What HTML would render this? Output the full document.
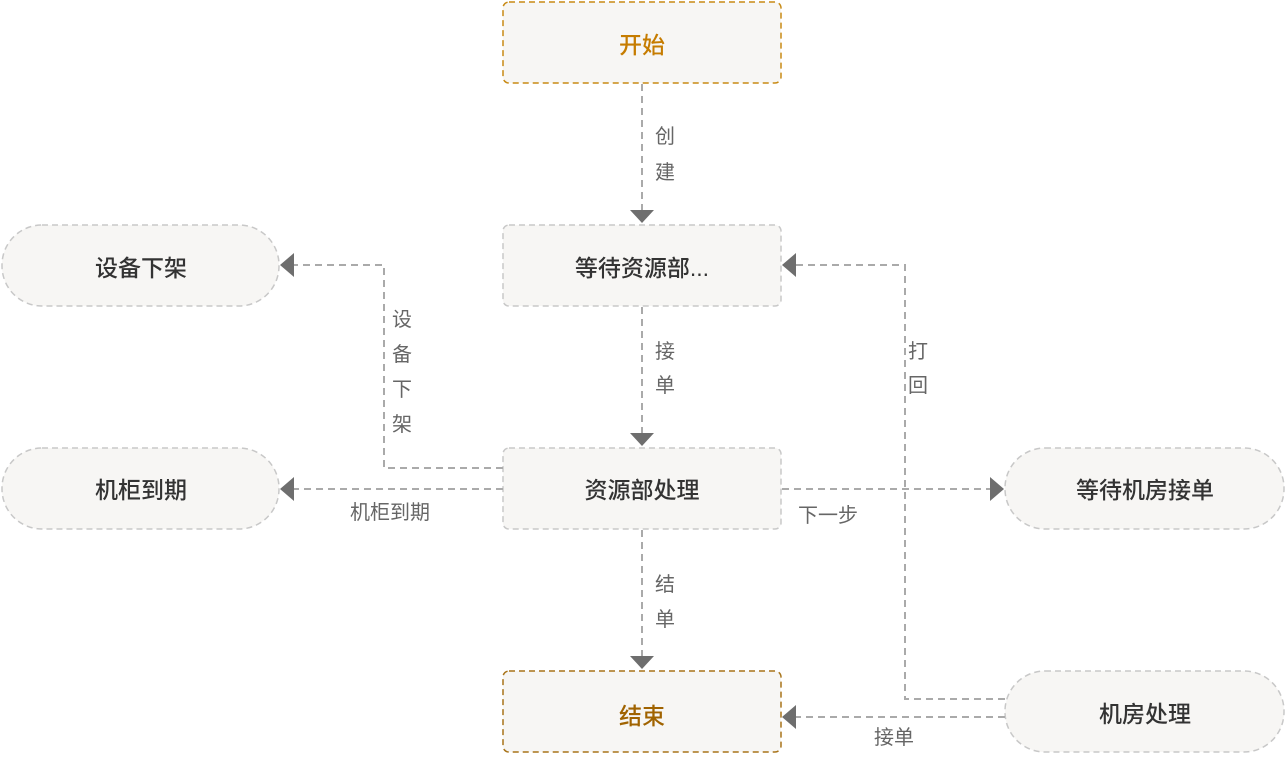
<!DOCTYPE html>
<html><head><meta charset="utf-8"><style>
body{margin:0;background:#fff;width:1286px;height:756px;overflow:hidden;font-family:"Liberation Sans","Noto Sans CJK SC",sans-serif}
</style></head><body>
<svg width="1286" height="756" viewBox="0 0 1286 756" xmlns="http://www.w3.org/2000/svg" font-family="Liberation Sans, Noto Sans CJK SC, sans-serif">
<g fill="#f7f6f4" stroke-width="1.5" stroke-dasharray="6 4">
<rect x="503" y="2" width="278" height="81" rx="6" stroke="#c88a14"/>
<rect x="503" y="671" width="278" height="81" rx="6" stroke="#a8741a"/>
<rect x="503" y="225" width="278" height="81" rx="6" stroke="#c8c8c8"/>
<rect x="503" y="448" width="278" height="81" rx="6" stroke="#c8c8c8"/>
<rect x="2" y="225" width="277" height="81" rx="40" stroke="#c8c8c8"/>
<rect x="2" y="448" width="277" height="81" rx="40" stroke="#c8c8c8"/>
<rect x="1005" y="448" width="279" height="81" rx="40" stroke="#c8c8c8"/>
<rect x="1005" y="671" width="279" height="81" rx="40" stroke="#c8c8c8"/>
</g>
<g fill="none" stroke="#aaa" stroke-width="2" stroke-dasharray="7 5">
<path d="M642 84V210"/>
<path d="M642 307V433"/>
<path d="M642 530V656"/>
<path d="M503 468H384V265H294"/>
<path d="M503 489H294"/>
<path d="M782 489H990"/>
<path d="M1005 699H905V265H796"/>
<path d="M1005 717H796"/>
</g>
<g fill="#6e6e6e">
<path d="M630 210H654L642 223Z"/>
<path d="M630 433H654L642 446Z"/>
<path d="M630 656H654L642 669Z"/>
<path d="M294 253V277L280 265Z"/>
<path d="M294 477V501L280 489Z"/>
<path d="M990 477V501L1004 489Z"/>
<path d="M796 253V277L782 265Z"/>
<path d="M796 705V729L782 717Z"/>
</g>
<g font-size="23" font-weight="500" text-anchor="middle" dominant-baseline="central" fill="#333">
<text x="642" y="45" fill="#c67c00">开始</text>
<text x="642" y="716" fill="#a06300">结束</text>
<text x="642" y="268">等待资源部...</text>
<text x="642" y="490">资源部处理</text>
<text x="141" y="268">设备下架</text>
<text x="141" y="490">机柜到期</text>
<text x="1145" y="490">等待机房接单</text>
<text x="1145" y="714">机房处理</text>
</g>
<g font-size="20" text-anchor="middle" dominant-baseline="central" fill="#666">
<text x="665" y="137">创</text><text x="665" y="173">建</text>
<text x="665" y="352">接</text><text x="665" y="386">单</text>
<text x="665" y="585">结</text><text x="665" y="620">单</text>
<text x="402" y="320">设</text><text x="402" y="355">备</text><text x="402" y="390">下</text><text x="402" y="425">架</text>
<text x="918" y="352">打</text><text x="918" y="386">回</text>
<text x="390" y="513">机柜到期</text>
<text x="828" y="516">下一步</text>
<text x="894" y="738">接单</text>
</g>
</svg>
</body></html>
